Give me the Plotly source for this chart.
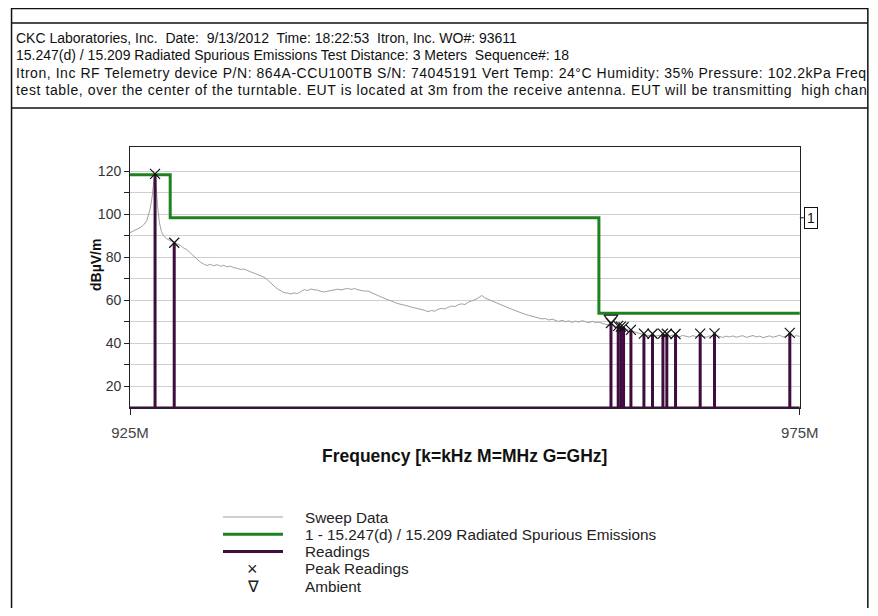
import plotly.graph_objects as go

# ---------------- data ----------------
sweep_freq = [
    925.00, 925.25, 925.50, 925.75, 926.00, 926.25, 926.50, 926.65, 926.75, 926.87,
    926.95, 927.05, 927.20, 927.35, 927.50, 927.75, 928.00, 928.25, 928.50, 928.75,
    929.00, 929.25, 929.50, 929.75, 930.00, 930.25, 930.50, 930.75, 931.00, 931.25,
    931.50, 931.75, 932.00, 932.25, 932.50, 932.75, 933.00, 933.25, 933.50, 933.75,
    934.00, 934.25, 934.50, 934.75, 935.00, 935.25, 935.50, 935.75, 936.00, 936.25,
    936.50, 936.75, 937.00, 937.25, 937.50, 937.75, 938.00, 938.25, 938.50, 938.75,
    939.00, 939.25, 939.50, 939.75, 940.00, 940.25, 940.50, 940.75, 941.00, 941.25,
    941.50, 941.75, 942.00, 942.25, 942.50, 942.75, 943.00, 943.25, 943.50, 943.75,
    944.00, 944.25, 944.50, 944.75, 945.00, 945.25, 945.50, 945.75, 946.00, 946.25,
    946.50, 946.75, 947.00, 947.25, 947.50, 947.75, 948.00, 948.25, 948.50, 948.75,
    949.00, 949.25, 949.50, 949.75, 950.00, 950.25, 950.50, 950.75, 951.00, 951.25,
    951.50, 951.75, 952.00, 952.25, 952.50, 952.75, 953.00, 953.25, 953.50, 953.75,
    954.00, 954.25, 954.50, 954.75, 955.00, 955.25, 955.50, 955.75, 956.00, 956.25,
    956.50, 956.75, 957.00, 957.25, 957.50, 957.75, 958.00, 958.25, 958.50, 958.75,
    959.00, 959.25, 959.50, 959.75, 960.00, 960.25, 960.50, 960.75, 961.00, 961.25,
    961.50, 961.75, 962.00, 962.25, 962.50, 962.75, 963.00, 963.25, 963.50, 963.75,
    964.00, 964.25, 964.50, 964.75, 965.00, 965.25, 965.50, 965.75, 966.00, 966.25,
    966.50, 966.75, 967.00, 967.25, 967.50, 967.75, 968.00, 968.25, 968.50, 968.75,
    969.00, 969.25, 969.50, 969.75, 970.00, 970.25, 970.50, 970.75, 971.00, 971.25,
    971.50, 971.75, 972.00, 972.25, 972.50, 972.75, 973.00, 973.25, 973.50, 973.75,
    974.00, 974.25, 974.50, 974.75, 975.00,
]
sweep_level = [
    91.5, 92.3, 93.0, 93.8, 95.0, 97.0, 102.5, 108.0, 114.0, 119.0,
    114.0, 104.0, 96.0, 92.0, 90.0, 88.6, 87.8, 87.3, 86.4, 85.6,
    84.4, 83.6, 82.1, 80.6, 79.2, 77.8, 76.9, 76.2, 76.8, 76.1,
    76.6, 75.9, 76.3, 75.6, 75.9, 75.2, 74.9, 74.4, 74.6, 73.8,
    73.3, 72.7, 72.1, 71.4, 70.8, 69.6, 68.0, 66.7, 65.4, 64.5,
    63.6, 63.4, 63.0, 63.5, 63.2, 64.1, 65.0, 64.6, 65.3, 64.9,
    64.8, 64.2, 63.9, 64.3, 64.6, 64.9, 65.2, 64.9, 65.3, 65.6,
    65.1, 65.5, 65.0, 64.7, 64.3, 64.4, 63.8, 63.1, 62.3, 61.6,
    60.9, 60.2, 59.6, 59.1, 58.5, 58.2, 57.6, 57.4, 56.9, 56.6,
    56.0, 55.7, 55.4, 54.8, 55.3, 55.0, 55.9, 56.3, 56.0, 56.8,
    57.4, 57.1, 58.0, 58.4, 58.1, 59.2, 59.6, 60.3, 61.2, 62.3,
    61.1, 60.4, 60.0, 59.2, 58.6, 57.8, 57.2, 56.5, 55.9, 55.3,
    54.6, 54.2, 53.5, 53.1, 52.7, 52.1, 51.9, 51.4, 51.6, 50.9,
    51.3, 50.6, 50.2, 50.8, 50.1, 50.5, 49.8, 50.4, 49.9, 50.6,
    50.0, 49.6, 50.3, 49.7, 49.9, 49.3, 48.9, 48.6, 48.8, 47.9,
    47.6, 47.2, 46.7, 46.2, 45.6, 45.1, 44.7, 44.3, 44.0, 43.6,
    43.9, 43.4, 43.8, 43.2, 43.6, 43.3, 43.9, 43.4, 43.1, 43.7,
    43.5, 43.0, 43.6, 43.2, 43.8, 43.3, 42.9, 43.5, 43.1, 43.7,
    43.2, 42.8, 43.4, 43.0, 43.5, 42.9, 43.3, 43.6, 42.8, 43.2,
    43.7, 43.0, 43.4, 42.7, 43.1, 43.5, 42.9, 43.3, 43.8, 43.0,
    43.4, 44.0, 43.2, 43.6, 43.3,
]

limit_freq = [925.0, 928.0, 960.0, 975.0]
limit_level = [118.4, 98.4, 54.0, 54.0]

reading_freq = [926.87, 928.30, 960.90, 961.44, 961.64, 961.84, 962.39, 963.36,
                964.00, 964.78, 965.07, 965.72, 967.56, 968.63, 974.25]
reading_level = [118.8, 86.8, 49.5, 48.2, 47.8, 47.6, 46.3, 44.6,
                 44.5, 44.6, 44.5, 44.4, 44.6, 44.7, 44.9]

ambient_freq = [960.90]
ambient_level = [51.8]

x_tick_vals = [925, 975]
x_tick_text = ["925M", "975M"]
y_tick_vals = [20, 30, 40, 50, 60, 70, 80, 90, 100, 110, 120]
y_tick_text = ["20", "", "40", "", "60", "", "80", "", "100", "", "120"]

header_lines = [
    "CKC Laboratories, Inc.  Date:  9/13/2012  Time: 18:22:53  Itron, Inc. WO#: 93611",
    "15.247(d) / 15.209 Radiated Spurious Emissions Test Distance: 3 Meters  Sequence#: 18",
    "Itron, Inc RF Telemetry device P/N: 864A-CCU100TB S/N: 74045191 Vert Temp: 24°C Humidity: 35% Pressure: 102.2kPa Freq",
    "test table, over the center of the turntable. EUT is located at 3m from the receive antenna. EUT will be transmitting  high chan",
]
header_spacing = [0.0, 0.0, 0.55, 0.6]
legend_labels = ["Sweep Data", "1 - 15.247(d) / 15.209 Radiated Spurious Emissions",
                 "Readings", "Peak Readings", "Ambient"]

# ---------------- figure ----------------
# measured mapping of the capture: screen_x = SX0 + SXK * page_x, screen_y = page_y
SX0, SXK = 18.3, 0.958
BODY = 8
W, H = 900, 600
Y_MIN, Y_MAX = 10, 131.3
FONT = "Liberation Sans, Arial, sans-serif"
PURPLE = "#3e0c3e"
GREEN = "#1e821e"
BORDER_R = 867


def px(x):
    return ((x - SX0) / SXK - BODY) / W


def py(y):
    return 1 - (y - BODY) / H


fig = go.Figure()

fig.add_trace(go.Scatter(x=sweep_freq, y=sweep_level, mode="lines",
                         line=dict(color="#a0a0a0", width=1), showlegend=False))

fig.add_trace(go.Scatter(x=limit_freq, y=limit_level, mode="lines",
                         line=dict(color=GREEN, width=3, shape="hv"), showlegend=False))

rx, ry = [limit_freq[0], limit_freq[-1], None], [Y_MIN, Y_MIN, None]
for f, v in zip(reading_freq, reading_level):
    rx += [f, f, None]
    ry += [Y_MIN, v, None]
fig.add_trace(go.Scatter(x=rx, y=ry, mode="lines", cliponaxis=False,
                         line=dict(color=PURPLE, width=3), showlegend=False))

fig.add_trace(go.Scatter(x=reading_freq, y=reading_level, mode="markers",
                         marker=dict(symbol="x-thin", size=10, line=dict(color="#111", width=1.2)),
                         showlegend=False))
fig.add_trace(go.Scatter(x=ambient_freq, y=ambient_level, mode="markers",
                         marker=dict(symbol="triangle-down-open", size=12, color="#111",
                                     line=dict(width=1.2)),
                         showlegend=False))

plot_l, plot_r, plot_t, plot_b = 129, 799, 147, 408

fig.update_layout(
    width=W, height=H, autosize=False, margin=dict(l=0, r=0, t=0, b=0),
    paper_bgcolor="white", plot_bgcolor="white",
    font=dict(family=FONT, size=12, color="#333"),
    xaxis=dict(domain=[px(plot_l), px(plot_r)], range=[925, 975],
               tickvals=x_tick_vals, ticktext=x_tick_text, ticks="outside", ticklen=6,
               tickcolor="#222", showgrid=False, zeroline=False,
               showline=True, linecolor="#222", linewidth=1, mirror=True,
               tickfont=dict(size=15, color="#444"), ticklabelstandoff=5),
    yaxis=dict(domain=[py(plot_b), py(plot_t)], range=[Y_MIN, Y_MAX],
               tickvals=y_tick_vals, ticktext=y_tick_text, ticks="outside", ticklen=5,
               tickcolor="#222", showgrid=True, gridcolor="#cfcfcf", gridwidth=1,
               zeroline=False, showline=True, linecolor="#222", linewidth=1, mirror=True,
               tickfont=dict(size=14, color="#333")),
)

shapes = []
shapes.append(dict(type="rect", xref="paper", yref="paper", x0=px(10.5), x1=px(BORDER_R),
                   y0=py(640), y1=py(8.5), line=dict(color="#111", width=1.5)))
for yy in (23, 108):
    shapes.append(dict(type="line", xref="paper", yref="paper", x0=px(10.5), x1=px(BORDER_R),
                       y0=py(yy), y1=py(yy), line=dict(color="#111", width=1.5)))
shapes.append(dict(type="line", xref="paper", yref="y", x0=px(799), x1=px(803),
                   y0=limit_level[1], y1=limit_level[1], line=dict(color="#111", width=1)))

legend_y = [517, 534.3, 551.6, 568.9, 586.2]
legend_styles = [("#a0a0a0", 1), (GREEN, 3), (PURPLE, 3)]
for (col, wid), yy in zip(legend_styles, legend_y[:3]):
    shapes.append(dict(type="line", xref="paper", yref="paper", x0=px(222), x1=px(282),
                       y0=py(yy), y1=py(yy), line=dict(color=col, width=wid)))

annotations = []
for i, (line, sp) in enumerate(zip(header_lines, header_spacing)):
    txt = line if sp == 0 else f'<span style="letter-spacing:{sp}px">{line}</span>'
    annotations.append(dict(xref="paper", yref="paper", x=px(13), y=py(37.5 + 17.6 * i),
                            xanchor="left", yanchor="middle", showarrow=False, text=txt,
                            font=dict(size=14, color="#111", family=FONT)))
for lab, yy in zip(legend_labels, legend_y):
    annotations.append(dict(xref="paper", yref="paper", x=px(302), y=py(yy),
                            xanchor="left", yanchor="middle", showarrow=False, text=lab,
                            font=dict(size=15.3, color="#222", family=FONT)))
annotations.append(dict(xref="paper", yref="paper", x=px(252), y=py(legend_y[3]),
                        xanchor="center", yanchor="middle", showarrow=False, text="×",
                        font=dict(size=18, color="#222", family=FONT)))
annotations.append(dict(xref="paper", yref="paper", x=px(252), y=py(legend_y[4]),
                        xanchor="center", yanchor="middle", showarrow=False, text="∇",
                        font=dict(size=16, color="#222", family=FONT)))

annotations.append(dict(xref="paper", yref="y", x=px(803), y=limit_level[1],
                        xanchor="left", yanchor="middle", showarrow=False, text="1",
                        bordercolor="#111", borderwidth=1, borderpad=2,
                        font=dict(size=14, color="#111", family=FONT)))

annotations.append(dict(xref="paper", yref="paper", x=px(464), y=py(456),
                        xanchor="center", yanchor="middle", showarrow=False,
                        text="<b>Frequency [k=kHz M=MHz G=GHz]</b>",
                        font=dict(size=17.5, color="#111", family=FONT)))
annotations.append(dict(xref="paper", yref="paper", x=px(95), y=py(265),
                        xanchor="center", yanchor="middle", showarrow=False, textangle=-90,
                        text="<b>dBµV/m</b>",
                        font=dict(size=14, color="#111", family=FONT)))

fig.update_layout(shapes=shapes, annotations=annotations)

fig.write_html("out.html")
